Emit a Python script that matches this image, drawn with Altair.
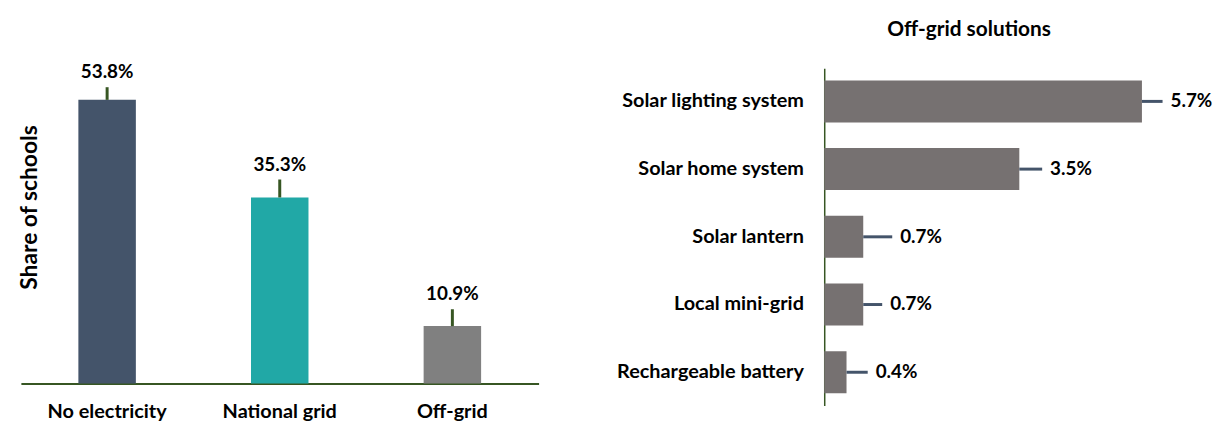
import altair as alt
import pandas as pd

# ---- Left panel: grid access ----
access_categories = ["No electricity", "National grid", "Off-grid"]
access_shares = [53.8, 35.3, 10.9]
access_errors = [2.4, 3.4, 3.2]
access_labels = ["53.8%", "35.3%", "10.9%"]
access_colors = ["#44546A", "#21A8A6", "#808080"]

# ---- Right panel: off-grid solutions ----
solution_categories = ["Solar lighting system", "Solar home system", "Solar lantern",
                       "Local mini-grid", "Rechargeable battery"]
solution_shares = [5.7, 3.5, 0.7, 0.7, 0.4]
solution_errors = [0.37, 0.41, 0.52, 0.34, 0.38]
solution_labels = ["5.7%", "3.5%", "0.7%", "0.7%", "0.4%"]

FONT = "Lato"
GREEN = "#375623"

left_df = pd.DataFrame({
    "category": access_categories,
    "share": access_shares,
    "upper": [v + e for v, e in zip(access_shares, access_errors)],
    "label": access_labels,
})
right_df = pd.DataFrame({
    "solution": solution_categories,
    "share": solution_shares,
    "upper": [v + e for v, e in zip(solution_shares, solution_errors)],
    "label": solution_labels,
})

# Left chart
lx = alt.X("category:N", sort=access_categories,
           scale=alt.Scale(paddingInner=0.667, paddingOuter=0.333),
           axis=alt.Axis(title=None, labelAngle=0, ticks=False, domainColor=GREEN,
                         domainWidth=2, labelFont=FONT, labelFontWeight="bold",
                         labelFontSize=20, labelColor="black", labelPadding=18,
                         labelLimit=300))
lscale = alt.Scale(domain=[0, 59.8], nice=False)
laxis = alt.Axis(title="Share of schools", labels=False, ticks=False, domain=False,
                 grid=False, titleX=21, titleY=140, titleFont=FONT, titleFontSize=23,
                 titleFontWeight="bold", titleColor="black")

lbase = alt.Chart(left_df).encode(x=lx)
lbars = lbase.mark_bar().encode(
    y=alt.Y("share:Q", scale=lscale, axis=laxis),
    color=alt.Color("category:N", scale=alt.Scale(domain=access_categories, range=access_colors),
                    legend=None),
)
lrules = lbase.mark_rule(color=GREEN, strokeWidth=3).encode(
    y=alt.Y("share:Q", scale=lscale, axis=laxis), y2="upper:Q")
ltext = lbase.mark_text(dy=-15, font=FONT, fontWeight="bold", fontSize=19,
                        baseline="middle", color="black").encode(
    y=alt.Y("upper:Q", scale=lscale, axis=laxis), text="label:N")
left = alt.layer(lbars, lrules, ltext).properties(width=522, height=318)

# Right chart
ry = alt.Y("solution:N", sort=solution_categories,
           scale=alt.Scale(paddingInner=0.38, paddingOuter=0.18),
           axis=alt.Axis(title=None, ticks=False, domainColor=GREEN, domainWidth=1.5,
                         labelFont=FONT, labelFontWeight="bold", labelFontSize=20,
                         labelColor="black", labelPadding=21, labelLimit=400))
rscale = alt.Scale(domain=[0, 6.975], nice=False)
rbase = alt.Chart(right_df).encode(y=ry)
rbars = rbase.mark_bar(color="#767171").encode(x=alt.X("share:Q", scale=rscale, axis=None))
rrules = rbase.mark_rule(color="#44546A", strokeWidth=3).encode(
    x=alt.X("share:Q", scale=rscale, axis=None), x2="upper:Q")
rtext = rbase.mark_text(dx=8, align="left", baseline="middle", font=FONT, fontWeight="bold",
                        fontSize=19, color="black").encode(
    x=alt.X("upper:Q", scale=rscale, axis=None), text="label:N")
right = alt.layer(rbars, rrules, rtext).properties(
    width=392, height=340,
    title=alt.TitleParams("Off-grid solutions", font=FONT, fontSize=21, fontWeight="bold",
                          color="black", anchor="middle", frame="group", dx=-50, offset=28),
)

chart = alt.hconcat(left, right, spacing=78).properties(
    padding={"left": 11, "top": 10, "right": 0, "bottom": 0}
).configure_view(stroke=None)

chart.save("out.html", embed_options={"renderer": "svg", "actions": False})
